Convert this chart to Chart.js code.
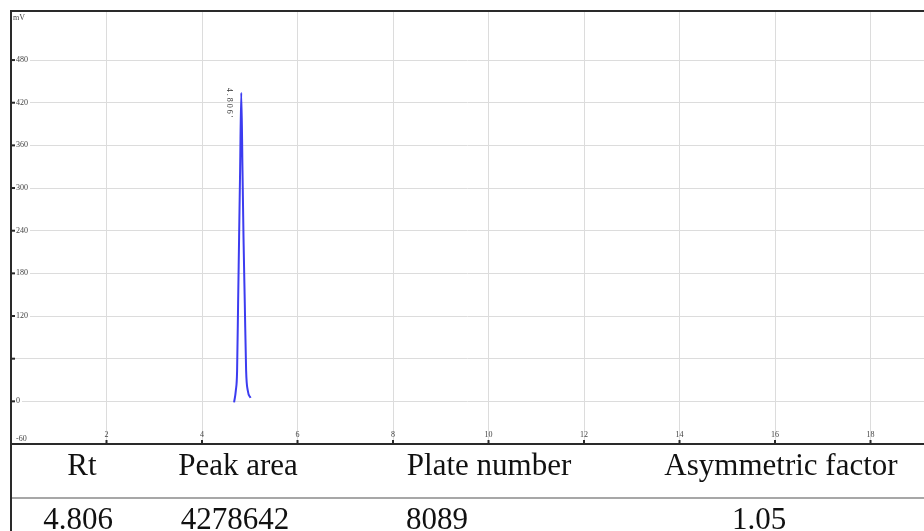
<!DOCTYPE html>
<html lang="en">
<head>
  <meta charset="UTF-8">
  <title>Chromatogram</title>
  <script src="https://cdn.jsdelivr.net/npm/chart.js"></script>
  <style>
    html, body { margin: 0; padding: 0; background: #fff; }
    #wrap { position: relative; width: 924px; height: 531px; overflow: hidden; }
    canvas { position: absolute; left: 0; top: 0; }
    .cell { position: absolute; font-family: 'Liberation Serif', 'Times New Roman', serif; font-size: 31px;
            line-height: 31px; color: #111; white-space: nowrap; transform: translateX(-50%); }
  </style>
</head>
<body>
  <div id="wrap">
    <canvas id="chrom" width="924" height="531"></canvas>
  </div>

  <script>
    // retention time (min) and detector signal (mV)
    const peakTime   = [4.672, 4.708, 4.735, 4.756, 4.777, 4.798, 4.822, 4.848, 4.869, 4.896, 4.924, 4.959, 5.016];
    const peakSignal = [-1.4,  15,    43,    138,   231,   325,   434,   325,   231,   138,   43,    15,    5];
    const peakLabel = "4.806'";

    const xTicks = [2, 4, 6, 8, 10, 12, 14, 16, 18];
    const yTicks = [-60, 0, 60, 120, 180, 240, 300, 360, 420, 480];
    const yLabelled = [-60, 0, 120, 180, 240, 300, 360, 420, 480];

    const tableHeaders = ['Rt', 'Peak area', 'Plate number', 'Asymmetric factor'];
    const tableValues  = ['4.806', '4278642', '8089', '1.05'];
    const headerCentres = [82, 238, 489, 781];
    const valueCentres  = [78, 235, 437, 759];

    const wrap = document.getElementById('wrap');
    tableHeaders.forEach((t, i) => {
      const d = document.createElement('div');
      d.className = 'cell';
      d.style.left = headerCentres[i] + 'px';
      d.style.top = '449px';
      d.textContent = t;
      wrap.appendChild(d);
    });
    tableValues.forEach((t, i) => {
      const d = document.createElement('div');
      d.className = 'cell';
      d.style.left = valueCentres[i] + 'px';
      d.style.top = '503px';
      d.textContent = t;
      wrap.appendChild(d);
    });

    const frame = {
      id: 'frame',
      afterDraw(chart) {
        const { ctx, chartArea: a, scales: { x, y } } = chart;
        const H = chart.height, W = chart.width;
        ctx.save();

        // table rule
        ctx.strokeStyle = '#8a8a8a';
        ctx.lineWidth = 1.5;
        ctx.beginPath(); ctx.moveTo(a.left, 498); ctx.lineTo(W, 498); ctx.stroke();

        // frame lines
        ctx.strokeStyle = '#2a2a2a';
        ctx.lineWidth = 2;
        ctx.beginPath();
        ctx.moveTo(W, a.top); ctx.lineTo(a.left, a.top); ctx.lineTo(a.left, H);
        ctx.moveTo(a.left, a.bottom); ctx.lineTo(W, a.bottom);
        ctx.stroke();

        ctx.font = '8px "Liberation Serif", serif';
        ctx.fillStyle = '#444';

        // x ticks above axis
        ctx.textAlign = 'center';
        ctx.textBaseline = 'alphabetic';
        xTicks.forEach(v => {
          const px = x.getPixelForValue(v);
          ctx.beginPath(); ctx.moveTo(px, a.bottom - 4); ctx.lineTo(px, a.bottom); ctx.stroke();
          ctx.fillText(String(v), px, a.bottom - 7);
        });

        // y ticks inside the frame
        ctx.textAlign = 'left';
        yTicks.forEach(v => {
          const py = y.getPixelForValue(v);
          ctx.beginPath(); ctx.moveTo(a.left, py); ctx.lineTo(a.left + 4, py); ctx.stroke();
          if (!yLabelled.includes(v)) return;
          const s = String(v);
          const w = ctx.measureText(s).width;
          const ty = Math.min(py, a.bottom - 5);
          ctx.fillStyle = '#fff';
          ctx.fillRect(a.left + 4, ty - 4, w + 3, 8);
          ctx.fillStyle = '#444';
          ctx.textBaseline = 'middle';
          ctx.fillText(s, a.left + 5, ty);
        });
        ctx.textBaseline = 'top';
        ctx.fillText('mV', a.left + 2, a.top + 3);

        // peak label, rotated
        const iMax = peakSignal.indexOf(Math.max(...peakSignal));
        const pt = chart.getDatasetMeta(0).data[iMax];
        ctx.translate(pt.x - 12, pt.y - 5);
        ctx.rotate(Math.PI / 2);
        ctx.letterSpacing = '2px';
        ctx.textBaseline = 'middle';
        ctx.fillStyle = '#333';
        ctx.fillText(peakLabel, 0, 0);
        ctx.restore();
      }
    };

    new Chart(document.getElementById('chrom').getContext('2d'), {
      type: 'line',
      data: {
        datasets: [{
          data: peakTime.map((t, i) => ({ x: t, y: peakSignal[i] })),
          borderColor: '#3c3cf0',
          borderWidth: 2,
          pointRadius: 0,
          cubicInterpolationMode: 'monotone',
          fill: false
        }]
      },
      options: {
        responsive: false,
        animation: false,
        layout: { padding: { left: 11, top: 11, right: 0, bottom: 87 } },
        plugins: { legend: { display: false }, tooltip: { enabled: false } },
        scales: {
          x: {
            type: 'linear', min: 0, max: 19.12,
            ticks: { display: false, stepSize: 2 },
            grid: { color: '#dcdcdc', lineWidth: 1, drawTicks: false },
            border: { display: false }
          },
          y: {
            min: -60, max: 549,
            ticks: { display: false, stepSize: 60 },
            grid: { color: '#dcdcdc', lineWidth: 1, drawTicks: false },
            border: { display: false }
          }
        }
      },
      plugins: [frame]
    });
  </script>
</body>
</html>
